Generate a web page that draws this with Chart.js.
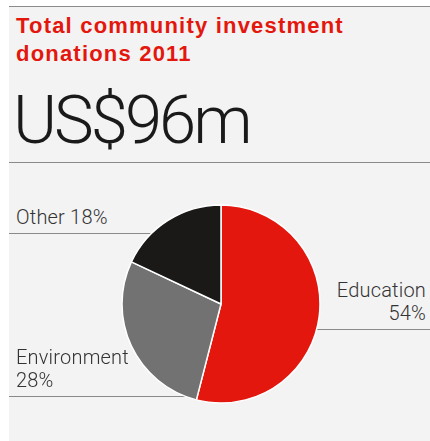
<!DOCTYPE html>
<html>
<head>
<meta charset="utf-8">
<script src="https://cdn.jsdelivr.net/npm/chart.js@4"></script>
<style>
    html, body { margin: 0; padding: 0; background: #ffffff; }
    #panel {
        position: relative;
        width: 430px;
        height: 441px;
        overflow: hidden;
    }
    .bg {
        position: absolute; left: 9px; top: 6px; right: 0; bottom: 0;
        background: #f3f3f3;
    }
    .rule { position: absolute; height: 0; border-top: 1px solid #8a8a8a; }
    .txt { position: absolute; white-space: nowrap; font-family: Roboto, "Liberation Sans", sans-serif; }
    #title {
        left: 16px; top: 12px;
        color: #e3170d; font-weight: bold; font-size: 22px; line-height: 28px;
        letter-spacing: 1.2px;
        font-family: "Liberation Sans", Arial, sans-serif;
    }
    #total { left: 13px; top: 80px; color: #1a1a1a; font-weight: 300; font-size: 67px; line-height: 80px; letter-spacing: -3px; }
    .lbl { color: #333333; font-weight: 300; font-size: 20px; line-height: 23px; letter-spacing: 0.2px; }
    #pieWrap { position: absolute; left: 116px; top: 199px; width: 210px; height: 210px; }
</style>
</head>
<body>
<div id="panel">
    <div class="bg"></div>
    <div class="rule" style="left:9px; right:0; top:6px;"></div>
    <div class="rule" style="left:9px; right:0; top:162px;"></div>

    <div id="title" class="txt">Total community investment<br>donations 2011</div>
    <div id="total" class="txt">US$96m</div>

    <!-- leader lines sit behind the pie -->
    <div class="rule" style="left:9px; width:200px; top:233px;"></div>
    <div class="rule" style="left:9px; width:200px; top:396px;"></div>
    <div class="rule" style="left:240px; right:0; top:329px;"></div>

    <div id="pieWrap"><canvas id="donationsChart"></canvas></div>

    <div id="lblOther" class="txt lbl" style="left:16px; top:206px;"></div>
    <div id="lblEnv" class="txt lbl" style="left:16px; top:346px;"></div>
    <div id="lblEdu" class="txt lbl" style="right:4px; top:279px; text-align:right;"></div>
</div>

<script>
    // Donation split, percent of total
    const categories = ['Education', 'Environment', 'Other'];
    const shares = [54, 28, 18];
    const sliceColors = ['#e3170d', '#727272', '#1a1917'];

    // Labels
    document.getElementById('lblEdu').innerHTML = categories[0] + '<br>' + shares[0] + '%';
    document.getElementById('lblEnv').innerHTML = categories[1] + '<br>' + shares[1] + '%';
    document.getElementById('lblOther').textContent = categories[2] + ' ' + shares[2] + '%';

    const ctx = document.getElementById('donationsChart');
    new Chart(ctx, {
        type: 'pie',
        data: {
            labels: categories,
            datasets: [{
                data: shares,
                backgroundColor: sliceColors,
                borderColor: '#ffffff',
                borderWidth: 1.5
            }]
        },
        options: {
            responsive: true,
            maintainAspectRatio: false,
            animation: false,
            radius: 99,
            layout: { padding: 0 },
            plugins: {
                legend: { display: false },
                tooltip: { enabled: false }
            }
        }
    });
</script>
</body>
</html>
